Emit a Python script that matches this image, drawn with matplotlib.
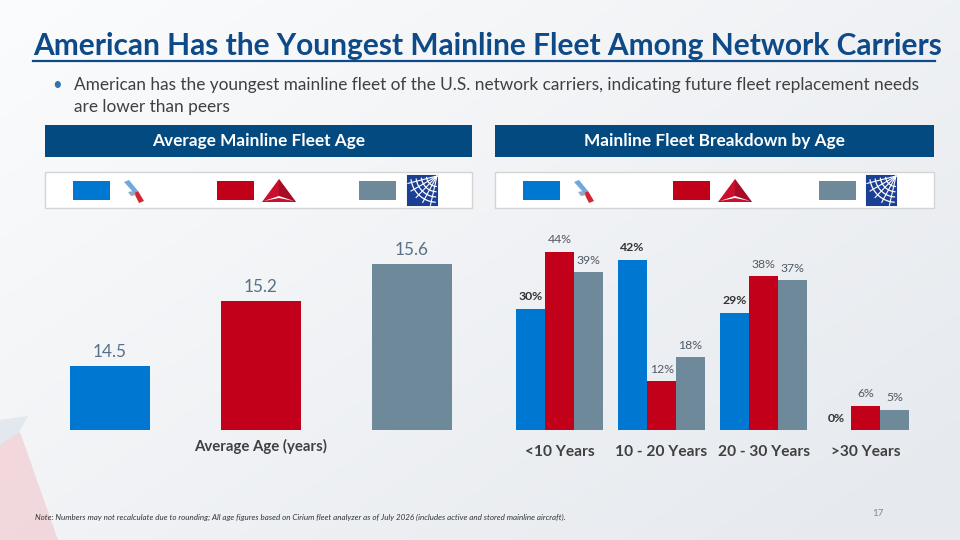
import numpy as np
import matplotlib.pyplot as plt
from matplotlib.patches import Rectangle, Polygon

plt.rcParams['font.family'] = ['Lato', 'DejaVu Sans']

# data
carriers = ["American", "Delta", "United"]
carrier_colors = ["#0078D2", "#C30019", "#6E8999"]
avg_age = [14.5, 15.2, 15.6]
age_buckets = ["<10 Years", "10 - 20 Years", "20 - 30 Years", ">30 Years"]
share_american = [30, 42, 29, 0]
share_delta = [44, 12, 38, 6]
share_united = [39, 18, 37, 5]

W, H = 960, 540
fig = plt.figure(figsize=(W / 100, H / 100), dpi=100)


def frac(x0, y0, x1, y1):
    # pixel box (top-left origin) -> figure fraction rect
    return [x0 / W, 1 - y1 / H, (x1 - x0) / W, (y1 - y0) / H]


# background / decoration layer in pixel coords
bg = fig.add_axes([0, 0, 1, 1], zorder=-1)
bg.set_xlim(0, W)
bg.set_ylim(H, 0)
bg.axis("off")
grad = np.linspace(0, 1, 256)
gx, gy = np.meshgrid(grad, grad)
t = np.clip(0.6 * gx + 0.5 * gy, 0, 1)[..., None]
light = np.array([0.985, 0.988, 0.992])
dark = np.array([0.905, 0.918, 0.935])
bg.imshow(light * (1 - t) + dark * t, extent=[0, W, H, 0], aspect="auto")
bg.add_patch(Polygon([[0, 445], [20, 432], [58, 540], [0, 540]], color="#F2B8BE", alpha=0.45, lw=0))
bg.add_patch(Polygon([[0, 420], [28, 416], [18, 434], [0, 446]], color="#D5DCE6", alpha=0.5, lw=0))

# title
fig.text(33 / W, 1 - 46 / H, "American Has the Youngest Mainline Fleet Among Network Carriers",
         fontsize=21.5, fontweight="bold", color="#0E4A87", va="center", ha="left")
bg.plot([33, 935], [61, 61], color="#0E4A87", lw=1.6)
fig.text(52 / W, 1 - 85 / H, "\u2022", fontsize=12, color="#2E75B6", va="center")
fig.text(74 / W, 1 - 85 / H,
         "American has the youngest mainline fleet of the U.S. network carriers, indicating future fleet replacement needs",
         fontsize=12.4, color="#404040", va="center")
fig.text(74 / W, 1 - 107 / H, "are lower than peers", fontsize=12.4, color="#404040", va="center")

# section headers
for (x0, x1), label in [((45, 472), "Average Mainline Fleet Age"),
                        ((495, 934), "Mainline Fleet Breakdown by Age")]:
    bg.add_patch(Rectangle((x0, 125), x1 - x0, 32, color="#034A80", lw=0))
    bg.text((x0 + x1) / 2, 141, label, color="white", fontsize=12.4, fontweight="bold",
            ha="center", va="center")


def aa_logo(x, y):
    bg.add_patch(Polygon([[x, y], [x + 5, y - 2], [x + 14, y + 9], [x + 10, y + 11]], color="#6FA8DC", lw=0))
    bg.add_patch(Polygon([[x + 10, y + 11], [x + 14, y + 9], [x + 20, y + 19], [x + 15, y + 21]], color="#D22630", lw=0))
    bg.add_patch(Polygon([[x + 4, y + 10], [x + 9, y + 9], [x + 12, y + 13], [x + 7, y + 14]], color="#8EA9C1", lw=0))


def delta_logo(x, y):
    bg.add_patch(Polygon([[x, y + 23], [x + 17, y], [x + 34, y + 23]], color="#C8102E", lw=0))
    bg.add_patch(Polygon([[x + 17, y], [x + 34, y + 23], [x + 17, y + 18]], color="#8B0A1E", lw=0, alpha=0.55))
    bg.add_patch(Polygon([[x + 2, y + 22], [x + 17, y + 17], [x + 32, y + 22], [x + 17, y + 19]], color="white", lw=0))


def united_logo(x, y):
    bg.add_patch(Rectangle((x, y), 29, 29, color="#1B3F94", lw=0))
    th = np.linspace(0.15, 1.5, 40)
    for r in [10, 15, 20, 25]:
        bg.plot(x + 29 - r * np.cos(th) * 1.05, y + r * np.sin(th) * 1.05, color="white", lw=0.9)
    for a in np.linspace(0.25, 1.35, 5):
        bg.plot([x + 29, x + 29 - 30 * np.cos(a)], [y, y + 30 * np.sin(a)], color="white", lw=0.8)
    bg.add_patch(Rectangle((x, y), 29, 29, fill=False, ec="#1B3F94", lw=1.5))


# legend boxes
legend_boxes = [(45, 472, [73, 217, 359], [120, 262, 408]),
                (495, 934, [523, 673, 819], [570, 718, 867])]
for x0, x1, sw_x, logo_x in legend_boxes:
    bg.add_patch(Rectangle((x0, 172), x1 - x0, 36, fc="white", ec="#D4D4D4", lw=1))
    for c, sx in zip(carrier_colors, sw_x):
        bg.add_patch(Rectangle((sx, 181), 37, 19, color=c, lw=0))
    aa_logo(logo_x[0] + 4, 182)
    delta_logo(logo_x[1], 179)
    united_logo(logo_x[2], 176)

# left chart: average age
ax1 = fig.add_axes(frac(45, 230, 472, 430))
ax1.patch.set_alpha(0)
x1 = np.arange(len(avg_age))
ax1.bar(x1, avg_age, width=0.53, color=carrier_colors, bottom=0)
ax1.set_ylim(13.81, 13.81 + 200 / 93)
ax1.set_xlim(-0.43, 2.40)
for xi, v in zip(x1, avg_age):
    ax1.annotate(f"{v:.1f}", (xi, v), xytext=(0, 14), textcoords="offset pixels",
                 ha="center", va="center", fontsize=12.3, color="#5A6F88")
ax1.axis("off")
fig.text(261 / W, 1 - 446 / H, "Average Age (years)", ha="center", va="center",
         fontsize=10.8, fontweight="bold", color="#404040")

# right chart: fleet breakdown by age
ax2 = fig.add_axes(frac(495, 230, 934, 430))
ax2.patch.set_alpha(0)
xg = np.arange(len(age_buckets))
bw = 0.284
series = [share_american, share_delta, share_united]
for k, (vals, c) in enumerate(zip(series, carrier_colors)):
    pos = xg + (k - 1) * bw
    ax2.bar(pos, vals, width=bw, color=c)
    for p, v in zip(pos, vals):
        ax2.annotate(f"{v}%", (p, v), xytext=(0, 12), textcoords="offset pixels",
                     ha="center", va="center", fontsize=8.8,
                     color="#333333" if k == 0 else "#505A66",
                     fontweight="bold" if k == 0 else "normal")
ax2.set_ylim(0, 200 / 4.05)
ax2.set_xlim(-0.632, 3.67)
ax2.axis("off")
for xi, lab in zip(xg, age_buckets):
    ax2.annotate(lab, (xi, 0), xytext=(0, -22), textcoords="offset pixels",
                 ha="center", va="center", fontsize=11.2, fontweight="bold", color="#404040")

# footnote
fig.text(35 / W, 1 - 517 / H,
         "Note: Numbers may not recalculate due to rounding; All age figures based on Cirium fleet analyzer as of July 2026 (includes active and stored mainline aircraft).",
         fontsize=5.75, style="italic", color="#333333", va="center")
fig.text(878 / W, 1 - 513 / H, "17", fontsize=7, color="#888888", va="center", ha="center")

fig.savefig("out.png", dpi=100)
